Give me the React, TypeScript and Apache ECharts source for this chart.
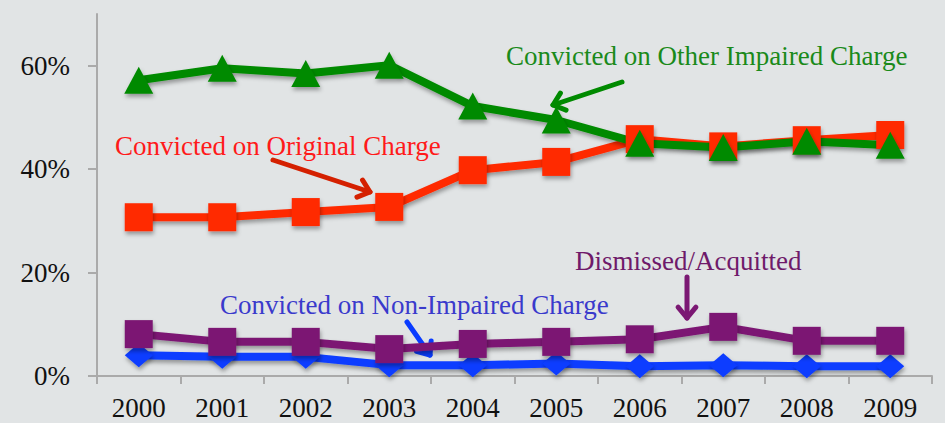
import React, { useEffect, useRef } from "react";
import * as echarts from "echarts";

const years = ["2000", "2001", "2002", "2003", "2004", "2005", "2006", "2007", "2008", "2009"];
const otherImpaired = [57.2, 59.5, 58.5, 60.1, 52.2, 49.5, 45.0, 44.2, 45.4, 44.6];
const originalCharge = [30.7, 30.7, 31.7, 32.7, 39.8, 41.4, 45.8, 44.4, 45.6, 46.6];
const dismissed = [8.1, 6.6, 6.6, 5.2, 6.2, 6.6, 7.1, 9.5, 6.8, 6.8];
const nonImpaired = [4.0, 3.7, 3.7, 2.1, 2.1, 2.4, 1.9, 2.1, 1.9, 1.9];
const yTicks = [0, 20, 40, 60];

const FONT = "Liberation Serif";

function arrow(x1: number, y1: number, x2: number, y2: number, color: string, head = 14) {
  const ang = Math.atan2(y2 - y1, x2 - x1);
  const a1 = ang + Math.PI * 0.78;
  const a2 = ang - Math.PI * 0.78;
  return {
    type: "group",
    children: [
      { type: "line", shape: { x1, y1, x2, y2 }, style: { stroke: color, lineWidth: 5, lineCap: "round" } },
      {
        type: "polyline",
        shape: {
          points: [
            [x2 + head * Math.cos(a1), y2 + head * Math.sin(a1)],
            [x2, y2],
            [x2 + head * Math.cos(a2), y2 + head * Math.sin(a2)],
          ],
        },
        style: { stroke: color, lineWidth: 5, lineCap: "round", lineJoin: "round", fill: null },
      },
    ],
  };
}

function label(text: string, x: number, y: number, color: string) {
  return {
    type: "text",
    x,
    y,
    style: { text, fill: color, fontFamily: FONT, fontSize: 27, textAlign: "left", textVerticalAlign: "middle" },
  };
}

const shadow = { shadowColor: "rgba(0,0,0,0.35)", shadowBlur: 4, shadowOffsetY: 3, shadowOffsetX: 1 };

function mkSeries(name: string, data: number[], color: string, symbol: string, size: any) {
  return {
    name,
    type: "line",
    data,
    symbol,
    symbolSize: size,
    lineStyle: { color, width: 8, ...shadow },
    itemStyle: { color, ...shadow },
    emphasis: { disabled: true },
  };
}

export default function App() {
  const ref = useRef<HTMLDivElement>(null);
  useEffect(() => {
    const chart = echarts.init(ref.current!, null, { renderer: "svg" });
    chart.setOption({
      animation: false,
      backgroundColor: "#e1e4e5",
      grid: { left: 97, right: 13, top: 14, bottom: 47 },
      xAxis: {
        type: "category",
        data: years,
        boundaryGap: true,
        axisLine: { lineStyle: { color: "#aaaaaa", width: 2 } },
        axisTick: { show: true, length: 8, lineStyle: { color: "#aaaaaa", width: 2 } },
        axisLabel: { color: "#111", fontFamily: FONT, fontSize: 27, margin: 18 },
      },
      yAxis: {
        type: "value",
        min: 0,
        max: 70,
        interval: 20,
        splitLine: { show: false },
        axisLine: { show: true, lineStyle: { color: "#aaaaaa", width: 2 } },
        axisTick: { show: true, length: 9, lineStyle: { color: "#aaaaaa", width: 2 }, customValues: yTicks },
        axisLabel: {
          color: "#111",
          fontFamily: FONT,
          fontSize: 27,
          margin: 27,
          customValues: yTicks,
          formatter: (v: number) => `${v}%`,
        },
      },
      series: [
        mkSeries("Convicted on Non-Impaired Charge", nonImpaired, "#0a3cff", "diamond", [28, 24]),
        mkSeries("Dismissed/Acquitted", dismissed, "#7b1873", "rect", 28),
        mkSeries("Convicted on Original Charge", originalCharge, "#ff2a00", "rect", 28),
        mkSeries("Convicted on Other Impaired Charge", otherImpaired, "#008a00", "triangle", [29, 27]),
      ],
      graphic: [
        label("Convicted on Original Charge", 115, 146, "#ff1a1a"),
        label("Convicted on Other Impaired Charge", 506, 56, "#1a8a1a"),
        label("Convicted on Non-Impaired Charge", 220, 305, "#3a3acc"),
        label("Dismissed/Acquitted", 575, 261, "#6f1a6a"),
        arrow(273, 160, 370, 192, "#d42000"),
        arrow(622, 82, 553, 105, "#008a00"),
        arrow(407, 322, 430, 355, "#0a3cff"),
        arrow(687, 277, 687, 318, "#7b1873"),
      ],
    });
    return () => chart.dispose();
  }, []);
  return <div ref={ref} style={{ position: "absolute", left: 0, top: 0, width: 945, height: 423 }} />;
}
